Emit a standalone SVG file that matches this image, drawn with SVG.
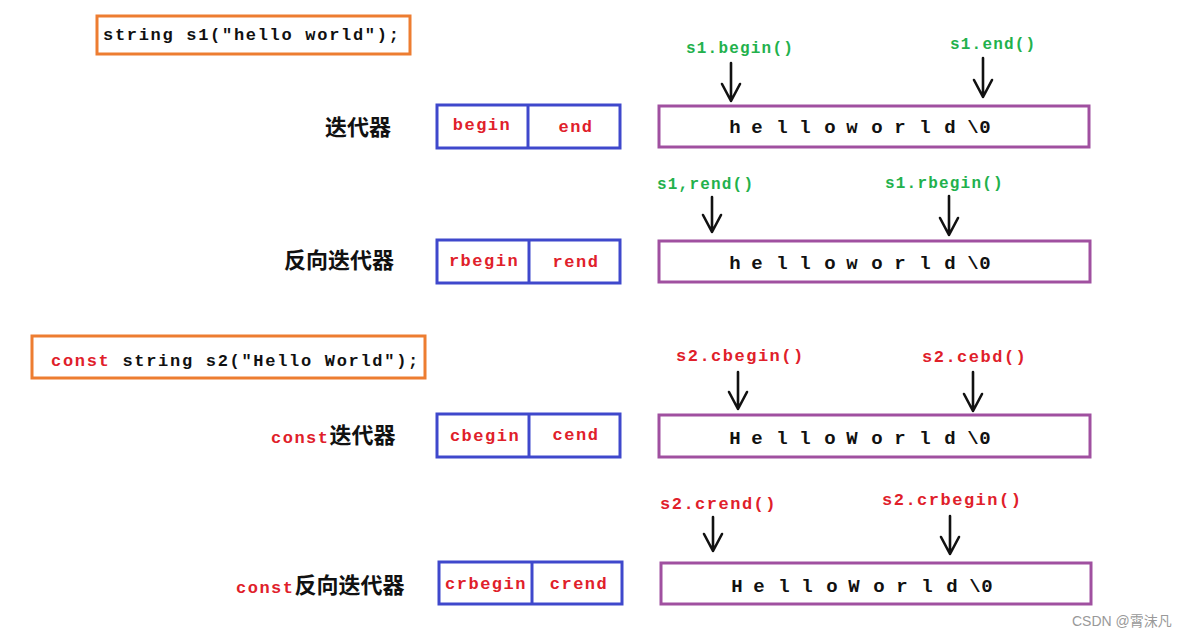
<svg xmlns="http://www.w3.org/2000/svg" width="1187" height="637" viewBox="0 0 1187 637">
<style>
.code{font-family:"Liberation Mono","Noto Sans CJK SC",monospace;font-weight:bold;font-size:17px;letter-spacing:1.7px;fill:#111}
.org{fill:#fff;stroke:#ED7D31;stroke-width:3}
.blue{fill:#fff;stroke:#3F48CC;stroke-width:3}
.pur{fill:#fff;stroke:#A050A0;stroke-width:3}
.red{fill:#E0202A}
.grn{font-family:"Liberation Mono",monospace;font-weight:bold;font-size:16px;letter-spacing:1.2px;fill:#22B14C}
.rlab{font-family:"Liberation Mono",monospace;font-weight:bold;font-size:17px;letter-spacing:1.5px;fill:#E0202A}
.it{font-family:"Liberation Mono",monospace;font-weight:bold;font-size:17px;letter-spacing:1.5px;fill:#E0202A;text-anchor:middle}
.cn{font-family:"Noto Sans CJK SC",sans-serif;font-weight:bold;font-size:22px;fill:#111}
.cst{font-family:"Liberation Mono",monospace;font-size:17px;letter-spacing:1.5px;fill:#E0202A}
.chars{font-family:"Liberation Mono",monospace;font-weight:bold;font-size:19px;fill:#111;text-anchor:middle}
.arr{fill:none;stroke:#111;stroke-width:2.6;stroke-linecap:round;stroke-linejoin:round}
.wm{font-family:"Liberation Sans","Noto Sans CJK SC",sans-serif;font-size:14px;fill:#999}
</style>
<rect width="1187" height="637" fill="#fff"/>

<g id="decl1">
<rect class="org" x="97" y="16" width="313" height="38"/>
<text class="code" x="103" y="40">string s1("hello world");</text>
</g>

<g id="row1">
<text class="cn" x="325" y="135">迭代器</text>
<rect class="blue" x="437" y="105" width="183" height="43"/>
<line x1="528" y1="105" x2="528" y2="148" stroke="#3F48CC" stroke-width="3"/>
<text class="it" x="482" y="130">begin</text>
<text class="it" x="576" y="132">end</text>
<rect class="pur" x="659" y="106" width="430" height="41"/>
<text class="chars" x="735 757 782 805 830 852 877 900 925 950 973 985" y="133">helloworld\0</text>
</g>

<g id="row2">
<text class="cn" x="284" y="268">反向迭代器</text>
<rect class="blue" x="437" y="240" width="183" height="43"/>
<line x1="529" y1="240" x2="529" y2="283" stroke="#3F48CC" stroke-width="3"/>
<text class="it" x="484" y="266">rbegin</text>
<text class="it" x="576" y="267">rend</text>
<rect class="pur" x="659" y="241" width="431" height="41"/>
<text class="chars" x="735 757 782 805 830 852 877 900 925 950 973 985" y="269">helloworld\0</text>
</g>

<g id="decl2">
<rect class="org" x="32" y="336" width="393" height="42"/>
<text class="code" x="51" y="366"><tspan class="red">const</tspan> string s2("Hello World");</text>
</g>

<g id="row3">
<text class="cn" x="271" y="443"><tspan class="cst" font-weight="bold">const</tspan>迭代器</text>
<rect class="blue" x="437" y="414" width="183" height="43"/>
<line x1="529" y1="414" x2="529" y2="457" stroke="#3F48CC" stroke-width="3"/>
<text class="it" x="485" y="441">cbegin</text>
<text class="it" x="576" y="440">cend</text>
<rect class="pur" x="659" y="415" width="431" height="42"/>
<text class="chars" x="735 757 782 805 830 852 877 900 925 950 973 985" y="444">HelloWorld\0</text>
</g>

<g id="row4">
<text class="cn" x="236" y="593"><tspan class="cst" font-weight="bold">const</tspan>反向迭代器</text>
<rect class="blue" x="439" y="562" width="183" height="42"/>
<line x1="532" y1="562" x2="532" y2="604" stroke="#3F48CC" stroke-width="3"/>
<text class="it" x="486" y="589">crbegin</text>
<text class="it" x="579" y="589">crend</text>
<rect class="pur" x="661" y="563" width="430" height="41"/>
<text class="chars" x="737 759 784 807 832 854 879 902 927 952 975 987" y="592">HelloWorld\0</text>
</g>

<g id="labels">
<text class="grn" x="686" y="53">s1.begin()</text>
<text class="grn" x="950" y="49">s1.end()</text>
<text class="grn" x="657" y="189">s1,rend()</text>
<text class="grn" x="885" y="188">s1.rbegin()</text>
<text class="rlab" x="676" y="361">s2.cbegin()</text>
<text class="rlab" x="922" y="362">s2.cebd()</text>
<text class="rlab" x="660" y="509">s2.crend()</text>
<text class="rlab" x="882" y="505">s2.crbegin()</text>
</g>

<g id="connectors">
<path class="arr" d="M731 63V101M722 84L731 101L740 84"/>
<path class="arr" d="M983 58V97M974 80L983 97L992 80"/>
<path class="arr" d="M712 197V232M703 215L712 232L721 215"/>
<path class="arr" d="M949 196V235M940 218L949 235L958 218"/>
<path class="arr" d="M738 372V409M729 392L738 409L747 392"/>
<path class="arr" d="M973 372V411M964 394L973 411L982 394"/>
<path class="arr" d="M713 517V551M704 534L713 551L722 534"/>
<path class="arr" d="M950 516V554M941 537L950 554L959 537"/>
</g>

<text class="wm" x="1072" y="626">CSDN @霄沫凡</text>
</svg>
